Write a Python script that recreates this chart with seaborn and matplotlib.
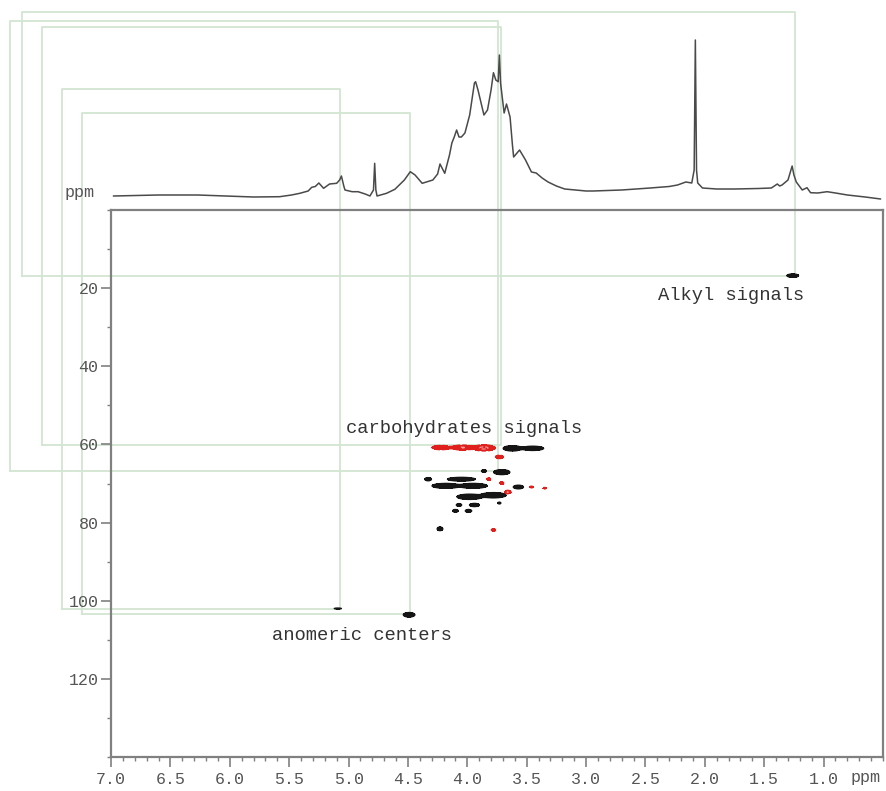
import numpy as np
import pandas as pd
import seaborn as sns
import matplotlib
matplotlib.use("Agg")
import matplotlib.pyplot as plt
from matplotlib.lines import Line2D
from matplotlib.transforms import IdentityTransform
from matplotlib.ticker import MultipleLocator, FixedLocator

# ---------------- data ----------------
# 1H projection trace: chemical shift (ppm) and intensity (arbitrary units)
proj_ppm = [6.98, 6.60, 6.27, 5.80, 5.58, 5.48, 5.41, 5.34, 5.31, 5.28, 5.25, 5.21,
            5.16, 5.10, 5.075, 5.06, 5.04, 5.03, 4.97, 4.92, 4.86, 4.82, 4.79, 4.78,
            4.77, 4.76, 4.68, 4.61, 4.53, 4.48, 4.44, 4.38, 4.29, 4.25, 4.23, 4.19,
            4.15, 4.13, 4.11, 4.09, 4.07, 4.05, 4.02, 3.98, 3.94, 3.93, 3.91, 3.89,
            3.86, 3.83, 3.80, 3.78, 3.76, 3.74, 3.73, 3.72, 3.69, 3.67, 3.64, 3.62,
            3.61, 3.56, 3.51, 3.46, 3.42, 3.37, 3.32, 3.25, 3.18, 3.00, 2.94, 2.70,
            2.46, 2.30, 2.23, 2.16, 2.11, 2.09, 2.08, 2.07, 2.06, 2.02, 1.90, 1.75,
            1.55, 1.44, 1.39, 1.37, 1.35, 1.30, 1.28, 1.265, 1.25, 1.23, 1.18, 1.14,
            1.11, 1.05, 0.97, 0.90, 0.80, 0.65, 0.52]
proj_int = [4, 5, 5, 3, 3.3, 5, 6.7, 9, 12.7, 13.5, 17, 11.7,
            16, 16.7, 20, 24, 14, 10, 8.3, 8.3, 6, 4, 10, 36.7,
            10, 4, 6.7, 10.7, 20, 28.3, 25, 16.7, 20, 26, 36, 26.7,
            45, 57, 63, 70, 63, 63, 67, 85, 117, 118.3, 110, 100,
            85, 90, 110, 127.3, 120, 118.3, 145, 117, 87, 96, 83, 55,
            43, 50, 40, 28, 27, 22, 18, 14, 11, 9, 9, 10,
            12, 13.5, 15, 18, 17, 30, 160, 30, 17, 12, 11, 11,
            11.5, 12, 16, 14, 15, 20, 28, 34, 25, 18, 10, 12.3,
            7.3, 7, 8.3, 7, 5, 3, 1]

# HSQC cross peaks: 1H shift, 13C shift, half-widths (ppm), signed intensity
# (negative phase = CH2 groups, drawn in red)
xp_h = [1.26, 5.09, 4.49,
        4.22, 4.04, 3.86, 3.62, 3.45,
        3.73, 3.71, 3.86,
        4.33, 4.05, 3.82, 3.71,
        4.18, 3.95, 3.57, 3.46, 3.35,
        3.66, 3.98, 3.78,
        4.07, 3.94, 4.10, 3.99, 3.73,
        4.23, 3.78]
xp_c = [16.8, 102.0, 103.6,
        60.8, 60.8, 60.9, 61.0, 61.0,
        63.2, 67.1, 66.8,
        68.9, 68.9, 68.9, 69.9,
        70.6, 70.6, 70.9, 70.9, 71.2,
        72.2, 73.4, 73.0,
        75.5, 75.5, 77.0, 77.0, 75.0,
        81.6, 81.9]
xp_wh = [0.05, 0.05, 0.05,
         0.09, 0.10, 0.10, 0.08, 0.10,
         0.04, 0.07, 0.025,
         0.03, 0.12, 0.02, 0.02,
         0.12, 0.12, 0.045, 0.02, 0.02,
         0.03, 0.11, 0.11,
         0.025, 0.045, 0.025, 0.03, 0.015,
         0.025, 0.02]
xp_wc = [0.45, 0.22, 0.6,
         0.65, 0.7, 0.8, 0.7, 0.6,
         0.5, 0.65, 0.4,
         0.45, 0.5, 0.4, 0.4,
         0.65, 0.65, 0.5, 0.3, 0.3,
         0.5, 0.7, 0.7,
         0.4, 0.45, 0.4, 0.4, 0.3,
         0.5, 0.4]
xp_amp = [1.0, 0.25, 1.0,
          -0.6, -0.8, -1.0, 1.0, 0.8,
          -0.6, 1.0, 0.5,
          0.8, 1.0, -0.5, -0.5,
          1.0, 1.0, 0.9, -0.4, -0.3,
          -0.8, 1.0, 1.0,
          0.7, 0.8, 0.7, 0.7, 0.5,
          0.9, -0.6]

# correlation guides (1H ppm, 13C ppm) for the assigned regions
guide_h = [1.24, 3.72, 3.74, 5.07, 4.48]
guide_c = [17.0, 60.2, 66.7, 102.0, 103.5]

# region labels
label_text = ["Alkyl signals", "carbohydrates signals", "anomeric centers"]
label_h = [1.78, 4.03, 4.89]
label_c = [22.0, 55.8, 109.0]

x_ticks = [7.0, 6.5, 6.0, 5.5, 5.0, 4.5, 4.0, 3.5, 3.0, 2.5, 2.0, 1.5, 1.0]
y_ticks = [20, 40, 60, 80, 100, 120]

# ---------------- layout ----------------
W, H = 886, 791
AX_L, AX_R, AX_T, AX_B = 111, 883, 210, 757
PROJ_T, PROJ_B = 20, 200
guide_left = [22, 42, 10, 62, 82]
guide_top = [12, 27, 21, 89, 113]

GRAY = "#808080"
TXT = "#555555"
GUIDE = "#d2e5d2"

sns.set_theme(style="white")
plt.rcParams["font.family"] = ["Liberation Mono", "DejaVu Sans Mono"]

fig = plt.figure(figsize=(W / 100, H / 100), dpi=100)
fig.patch.set_facecolor("white")
ax = fig.add_axes([AX_L / W, 1 - AX_B / H, (AX_R - AX_L) / W, (AX_B - AX_T) / H])
ax1 = fig.add_axes([AX_L / W, 1 - PROJ_B / H, (AX_R - AX_L) / W, (PROJ_B - PROJ_T) / H],
                   sharex=ax)
for a in (ax, ax1):
    a.set_facecolor("none")

# ---------------- 2D spectrum ----------------
gh = np.linspace(0.5, 7.0, 1301)
gc = np.linspace(0.0, 140.0, 2801)
HH, CC = np.meshgrid(gh, gc)
Z = np.zeros_like(HH)
for h, c, wh, wc, a in zip(xp_h, xp_c, xp_wh, xp_wc, xp_amp):
    sh, sc = wh / 2.2, wc / 2.2
    Z += a * np.exp(-0.5 * (((HH - h) / sh) ** 2 + ((CC - c) / sc) ** 2))

top = float(np.abs(Z).max()) * 2
ax.contourf(HH, CC, Z, levels=[0.1, top], colors=["#151515"])
ax.contour(HH, CC, Z, levels=[0.1], colors=["#151515"], linewidths=0.9)
ax.contourf(HH, CC, Z, levels=[-top, -0.1], colors=["#e0201c"])
ax.contour(HH, CC, Z, levels=[-0.1], colors=["#e0201c"], linewidths=0.9)
ax.contour(HH, CC, Z, levels=[-0.75], colors=["#f4a0a0"], linewidths=0.8)

ax.set_xlim(7.0, 0.5)
ax.set_ylim(140, 0)

ax.xaxis.set_major_locator(FixedLocator(x_ticks))
ax.xaxis.set_minor_locator(MultipleLocator(0.1))
ax.yaxis.set_major_locator(FixedLocator(y_ticks))
ax.yaxis.set_minor_locator(MultipleLocator(10))
ax.set_xticklabels([f"{v:.1f}" for v in x_ticks])
ax.set_yticklabels([str(v) for v in y_ticks])
ax.tick_params(axis="both", which="major", direction="out", length=7, width=1.2,
               color=GRAY, labelcolor=TXT, labelsize=12)
ax.tick_params(axis="both", which="minor", direction="out", length=3, width=1.0,
               color=GRAY)
ax.tick_params(axis="x", which="both", bottom=True, top=False, pad=4)
ax.tick_params(axis="y", which="both", left=True, right=False, pad=2)
ax.set_xlabel("")
ax.set_ylabel("")
for s in ax.spines.values():
    s.set_visible(True)
    s.set_color(GRAY)
    s.set_linewidth(1.6)

ax.text(0.978, -0.038, "ppm", transform=ax.transAxes, ha="center", va="center",
        fontsize=12, color=TXT)

for t, h, c in zip(label_text, label_h, label_c):
    ax.text(h, c, t, ha="center", va="center", fontsize=13.5, color="#333333")

# ---------------- 1H projection ----------------
proj = pd.DataFrame({"ppm": proj_ppm, "intensity": proj_int})
sns.lineplot(data=proj, x="ppm", y="intensity", ax=ax1, color="#4a4a4a",
             linewidth=1.1, sort=False, estimator=None)
ax1.set_ylim(0, PROJ_B - PROJ_T)
ax1.axis("off")
fig.text(80 / W, 1 - 193 / H, "ppm", ha="center", va="center", fontsize=12, color=TXT)

# ---------------- correlation guides ----------------
fig.canvas.draw()
for h, c, lx, ty in zip(guide_h, guide_c, guide_left, guide_top):
    px, py = ax.transData.transform((h, c))
    lxd, tyd = lx, H - ty
    xs = [lxd, px, px, lxd, lxd]
    ys = [py, py, tyd, tyd, py]
    fig.add_artist(Line2D(xs, ys, transform=IdentityTransform(), color=GUIDE,
                          linewidth=1.3, zorder=-1))

fig.savefig("out.png", dpi=100, facecolor="white")
